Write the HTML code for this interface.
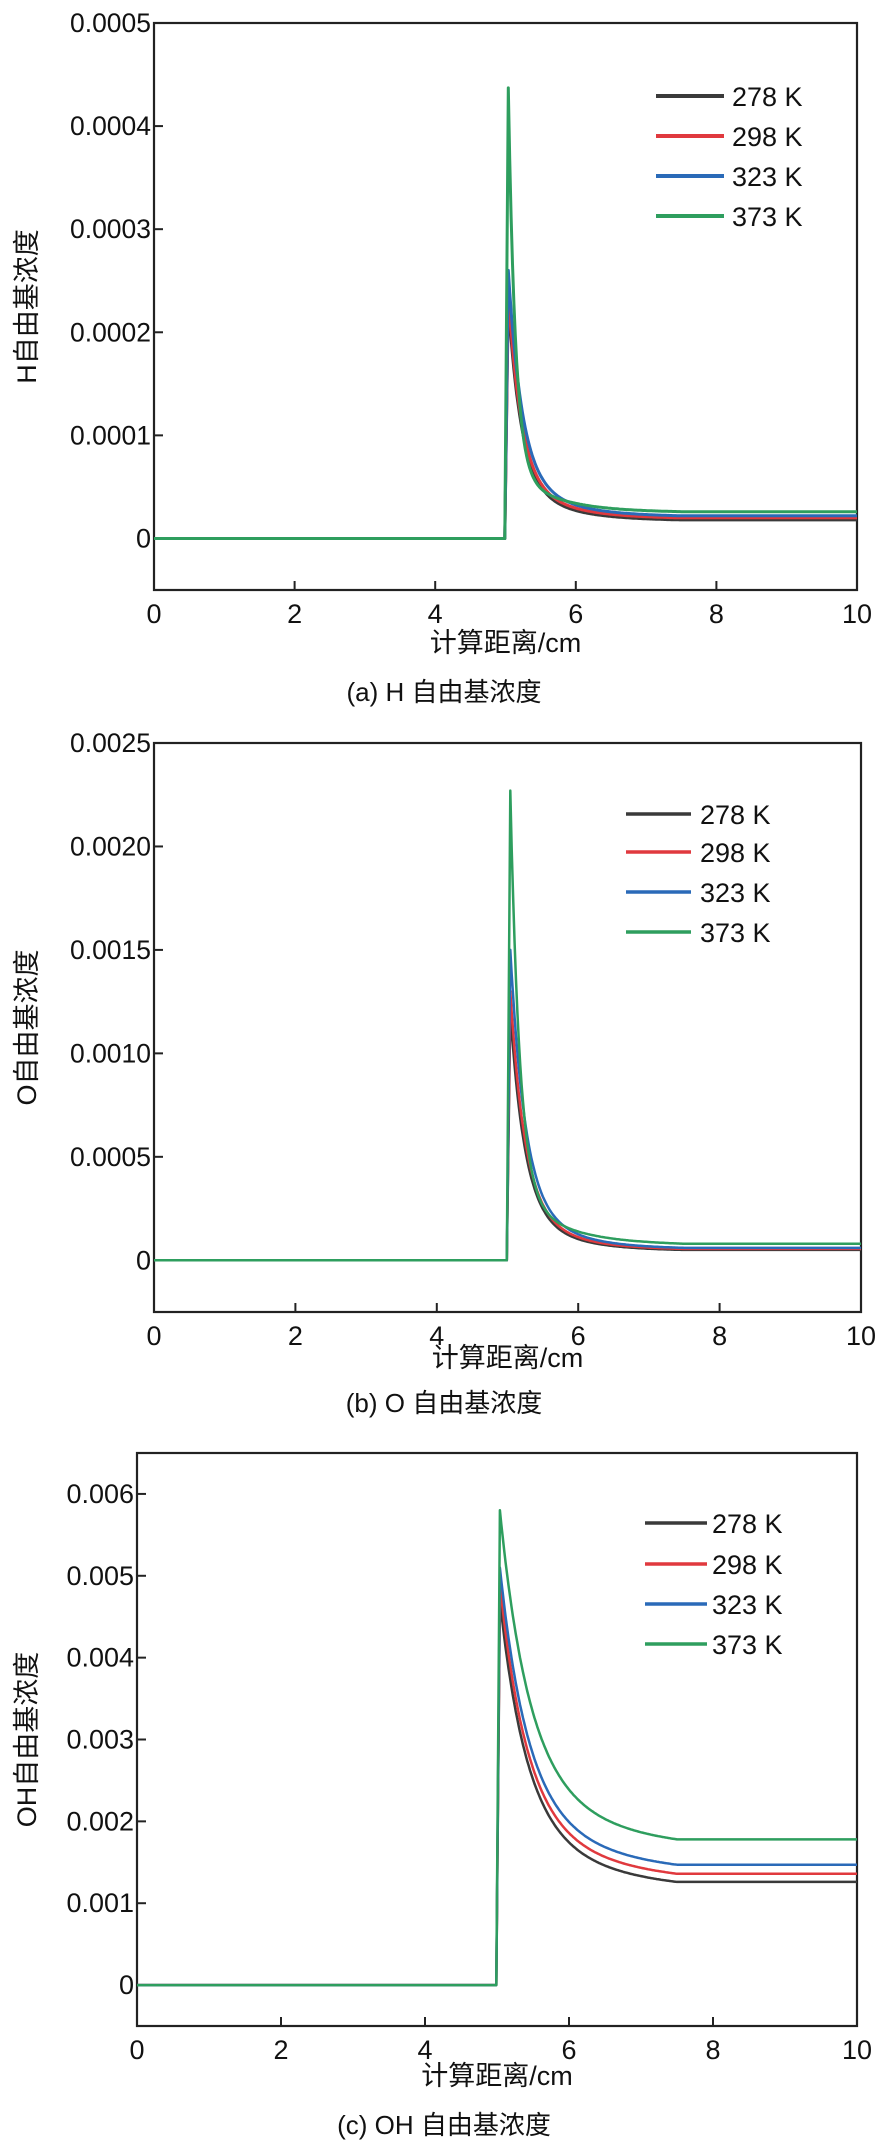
<!DOCTYPE html>
<html><head><meta charset="utf-8">
<style>
html,body{margin:0;padding:0;background:#fff;}
svg{display:block;}
text{font-family:"Liberation Sans","Noto Sans CJK SC",sans-serif;fill:#111;}
</style></head>
<body>
<svg id="s" width="887" height="2154" viewBox="0 0 887 2154" xmlns="http://www.w3.org/2000/svg"></svg>
<script>
const S=document.getElementById('s');
let out='';
const cols={278:'#3a3a3a',298:'#e0393e',323:'#2a6ab8',373:'#2e9e5e'};
function plot(o){
  const {L,R,T,B,ymin,ymax,yticks,fmt,ylabel,caption,capY,xlY,series,lw,leg}=o;
  const X=x=>L+(R-L)*x/10, Y=y=>B-(B-T)*(y-ymin)/(ymax-ymin);
  out+=`<rect x="${L}" y="${T}" width="${R-L}" height="${B-T}" fill="none" stroke="#222" stroke-width="2.2"/>`;
  for(let i=0;i<=10;i+=2){const x=X(i);
    if(i>0&&i<10) out+=`<line x1="${x}" y1="${B}" x2="${x}" y2="${B-9}" stroke="#222" stroke-width="2"/>`;
    out+=`<text x="${x}" y="${B+33}" font-size="27" text-anchor="middle">${i}</text>`;}
  yticks.forEach(v=>{const y=Y(v);
    out+=`<line x1="${L}" y1="${y}" x2="${L+9}" y2="${y}" stroke="#222" stroke-width="2"/>`;
    out+=`<text x="${L-3}" y="${y+9}" font-size="27" text-anchor="end" textLength="${fmt(v).length>1?fmt(v).length*13.5:0}" lengthAdjust="spacingAndGlyphs">${fmt(v)}</text>`;});
  out+=`<text x="${(L+R)/2}" y="${xlY}" font-size="27" text-anchor="middle">计算距离/cm</text>`;
  out+=`<text transform="translate(${o.ylX},${(T+B)/2}) rotate(-90)" font-size="27" text-anchor="middle">${ylabel}</text>`;
  out+=`<text x="${o.capX}" y="${capY}" font-size="26" text-anchor="middle">${caption}</text>`;
  [278,298,323,373].forEach(k=>{
    const s=series[k];let pts=[[X(0),Y(0)],[X(4.99),Y(0)],[X(5.04),Y(s.peak)]];
    for(let x=5.06;x<=10.001;x+=0.02){
      const d=x-5.04;let v;
      const e=s.a*Math.exp(-d/s.t1)+(1-s.a)*Math.exp(-d/s.t2);
      v=s.plat+(s.peak-s.plat)*e;
      if(x>=7.5)v=s.plat;
      else {const m=s.plat+(s.peak-s.plat)*(s.a*Math.exp(-2.46/s.t1)+(1-s.a)*Math.exp(-2.46/s.t2));v=v-(m-s.plat)*(d/2.46);}
      pts.push([X(x),Y(v)]);}
    out+=`<polyline points="${pts.map(p=>p[0].toFixed(1)+','+p[1].toFixed(1)).join(' ')}" fill="none" stroke="${cols[k]}" stroke-width="${lw}" stroke-linejoin="round"/>`;
  });
  [278,298,323,373].forEach((k,i)=>{const y=leg.y[i];
    out+=`<line x1="${leg.x1}" y1="${y}" x2="${leg.x2}" y2="${y}" stroke="${cols[k]}" stroke-width="${lw+1}"/>`;
    out+=`<text x="${leg.tx}" y="${y+10}" font-size="27">${k} K</text>`;});
}
plot({L:154,R:857,T:23,B:590,ymin:-0.00005,ymax:0.0005,yticks:[0,0.0001,0.0002,0.0003,0.0004,0.0005],
 fmt:v=>v===0?'0':v.toFixed(4),ylabel:'H自由基浓度',ylX:36,caption:'(a) H 自由基浓度',capX:444,capY:701,xlY:652,lw:3,
 series:{278:{peak:0.00023,plat:0.000018,a:0.8,t1:0.18,t2:0.6},298:{peak:0.00024,plat:0.00002,a:0.8,t1:0.18,t2:0.6},
 323:{peak:0.00026,plat:0.000022,a:0.8,t1:0.19,t2:0.6},373:{peak:0.000437,plat:0.000026,a:0.9,t1:0.1,t2:0.6}},
 leg:{x1:656,x2:724,tx:732,y:[96,136,176,216]}});
plot({L:154,R:861,T:743,B:1312,ymin:-0.00025,ymax:0.0025,yticks:[0,0.0005,0.001,0.0015,0.002,0.0025],
 fmt:v=>v===0?'0':v.toFixed(4),ylabel:'O自由基浓度',ylX:36,caption:'(b) O 自由基浓度',capX:444,capY:1412,xlY:1367,lw:2.5,
 series:{278:{peak:0.0012,plat:0.00005,a:0.8,t1:0.2,t2:0.6},298:{peak:0.0013,plat:0.000055,a:0.8,t1:0.2,t2:0.6},
 323:{peak:0.0015,plat:0.00006,a:0.8,t1:0.2,t2:0.6},373:{peak:0.00227,plat:0.00008,a:0.88,t1:0.13,t2:0.65}},
 leg:{x1:626,x2:691,tx:700,y:[814,852,892,932]}});
plot({L:137,R:857,T:1453,B:2026,ymin:-0.0005,ymax:0.0065,yticks:[0,0.001,0.002,0.003,0.004,0.005,0.006],
 fmt:v=>v===0?'0':v.toFixed(3),ylabel:'OH自由基浓度',ylX:36,caption:'(c) OH 自由基浓度',capX:444,capY:2134,xlY:2085,lw:2.5,
 series:{278:{peak:0.0047,plat:0.00126,a:0.7,t1:0.35,t2:0.9},298:{peak:0.0049,plat:0.00136,a:0.7,t1:0.35,t2:0.9},
 323:{peak:0.0051,plat:0.00147,a:0.7,t1:0.36,t2:0.9},373:{peak:0.0058,plat:0.00178,a:0.7,t1:0.38,t2:0.9}},
 leg:{x1:645,x2:707,tx:712,y:[1523,1564,1604,1644]}});
S.innerHTML=out;
</script>
</body></html>
